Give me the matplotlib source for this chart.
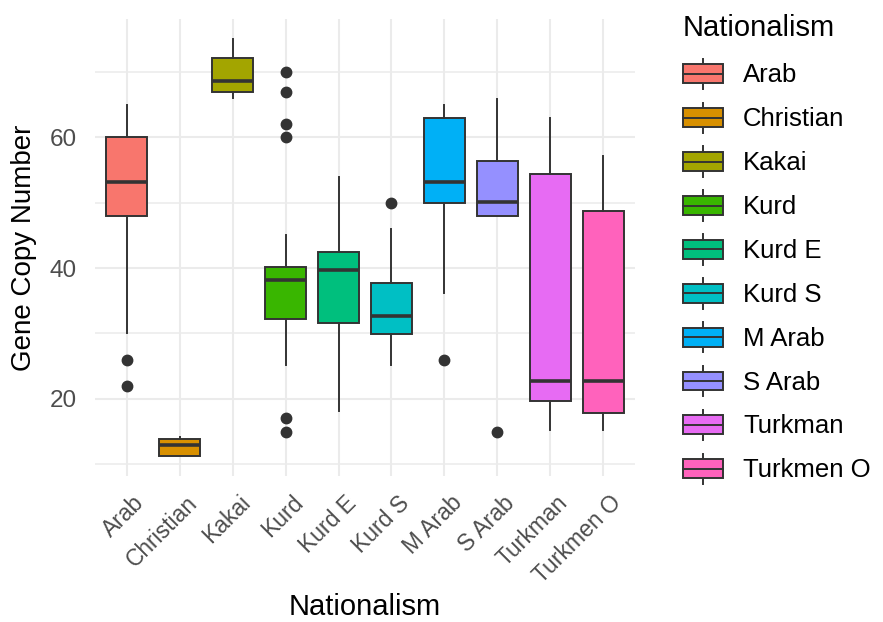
import matplotlib.pyplot as plt
import matplotlib.transforms as mtransforms
from matplotlib.patches import Rectangle
from matplotlib.lines import Line2D
from matplotlib.legend_handler import HandlerBase

plt.rcParams['font.family'] = ['Liberation Sans', 'DejaVu Sans']

# values
categories = ["Arab", "Christian", "Kakai", "Kurd", "Kurd E",
              "Kurd S", "M Arab", "S Arab", "Turkman", "Turkmen O"]
whis_lo = [30, 11.2, 66, 25.2, 18.2, 25.2, 36.2, 48, 15.3, 15.3]
q1 = [48, 11.2, 66.9, 32.2, 31.6, 29.9, 50, 47.9, 19.7, 17.9]
med = [53.1, 12.9, 68.6, 38.2, 39.7, 32.7, 53.1, 50.1, 22.8, 22.8]
q3 = [60, 13.9, 72.2, 40.1, 42.4, 37.7, 62.9, 56.4, 54.4, 48.8]
whis_hi = [65, 14.2, 75, 45.1, 53.9, 46, 64.9, 65.8, 62.9, 57.1]
outliers = [[26, 22], [], [], [70, 67, 62, 60, 17, 15], [], [50], [26], [15], [], []]
colors = ["#F8766D", "#D89000", "#A3A500", "#39B600", "#00BF7D",
          "#00BFC4", "#00B0F6", "#9590FF", "#E76BF3", "#FF62BC"]

dark = "#333333"

fig = plt.figure(figsize=(8.83, 6.22), dpi=100)
ax = fig.add_axes([95/883, 1-476/622, 540/883, 457/622])

stats = []
for i, c in enumerate(categories):
    stats.append(dict(label=c, whislo=whis_lo[i], q1=q1[i], med=med[i],
                      q3=q3[i], whishi=whis_hi[i], fliers=outliers[i]))

bp = ax.bxp(stats, positions=range(1, len(categories) + 1), widths=0.78,
            patch_artist=True, showcaps=False,
            boxprops=dict(edgecolor=dark, linewidth=1.4),
            medianprops=dict(color=dark, linewidth=2.6),
            whiskerprops=dict(color=dark, linewidth=1.4),
            flierprops=dict(marker='o', markerfacecolor=dark, markeredgecolor=dark,
                            markersize=7.5))
for patch, col in zip(bp['boxes'], colors):
    patch.set_facecolor(col)

ax.set_xlim(0.4, len(categories) + 0.6)
ax.set_ylim(8.2, 78.1)
ax.set_yticks([20, 40, 60])
ax.set_yticks([10, 30, 50, 70], minor=True)
ax.set_axisbelow(True)
ax.grid(True, which='major', color='#EBEBEB', linewidth=1.5)
ax.grid(True, which='minor', axis='y', color='#EBEBEB', linewidth=1.1)
for s in ax.spines.values():
    s.set_visible(False)
ax.tick_params(which='both', length=0)
ax.tick_params(axis='y', pad=13, labelsize=17.5, labelcolor='#4D4D4D')
ax.tick_params(axis='x', pad=11, labelsize=16.5, labelcolor='#4D4D4D')
shift = mtransforms.ScaledTranslation(6/100, 0, fig.dpi_scale_trans)
for lab in ax.get_xticklabels():
    lab.set_rotation(45)
    lab.set_ha('right')
    lab.set_va('top')
    lab.set_rotation_mode('anchor')
    lab.set_transform(lab.get_transform() + shift)

ax.set_xlabel("Nationalism", fontsize=21, labelpad=4)
ax.set_ylabel("Gene Copy Number", fontsize=20, labelpad=9)


class BoxKey(HandlerBase):
    def create_artists(self, legend, orig_handle, xdescent, ydescent,
                       width, height, fontsize, trans):
        x0, y0 = -xdescent, -ydescent
        bh = height * 0.62
        by = y0 + (height - bh) / 2
        whisk = Line2D([x0 + width/2] * 2, [y0, y0 + height], color=dark, lw=1.4,
                       transform=trans)
        box = Rectangle((x0, by), width, bh, facecolor=orig_handle.get_facecolor(),
                        edgecolor=dark, lw=1.4, transform=trans)
        mline = Line2D([x0, x0 + width], [y0 + height/2] * 2, color=dark, lw=1.4,
                       transform=trans)
        return [whisk, box, mline]


handles = [Rectangle((0, 0), 1, 1, facecolor=c) for c in colors]
leg = fig.legend(handles, categories, handler_map={Rectangle: BoxKey()},
                 loc='upper left', bbox_to_anchor=(683/883, 1 - 14/622), frameon=False,
                 title="Nationalism", title_fontsize=21, fontsize=18.5,
                 handlelength=1.56, handleheight=1.45, labelspacing=0.52,
                 handletextpad=0.78, alignment='left', borderpad=0, borderaxespad=0)
leg._legend_box.sep = 12

fig.savefig("out.png", dpi=100)
